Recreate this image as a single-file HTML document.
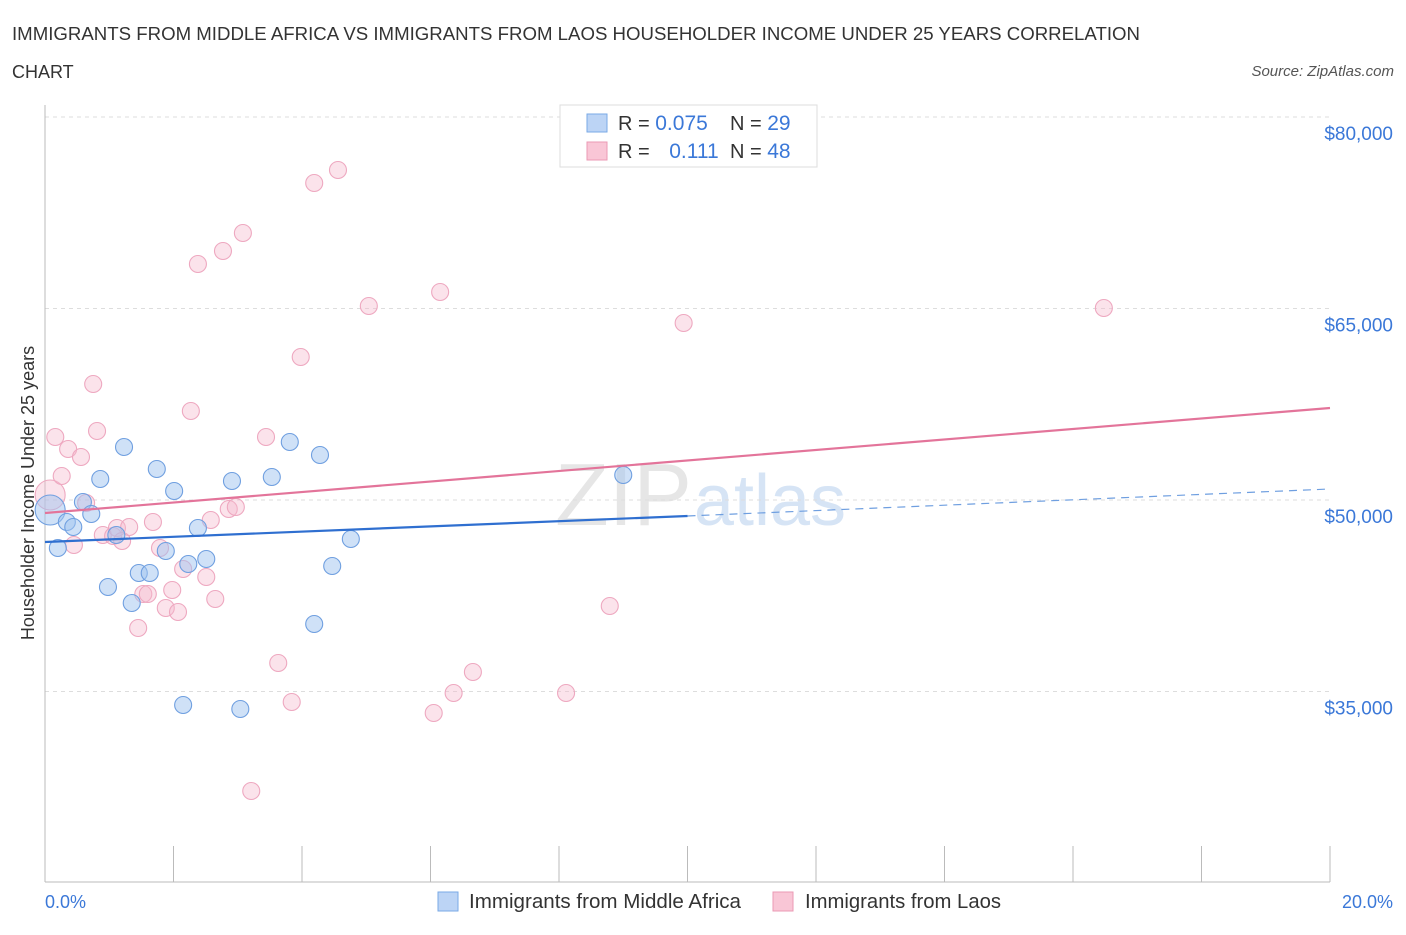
<!DOCTYPE html>
<html><head><meta charset="utf-8"><style>
body{margin:0;background:#fff;font-family:"Liberation Sans",sans-serif;}
svg text{font-family:"Liberation Sans",sans-serif;}
</style></head><body>
<svg id="c" width="1406" height="930">
<text x="12" y="40" font-size="18" fill="#333" textLength="1128" lengthAdjust="spacingAndGlyphs">IMMIGRANTS FROM MIDDLE AFRICA VS IMMIGRANTS FROM LAOS HOUSEHOLDER INCOME UNDER 25 YEARS CORRELATION</text>
<text x="12" y="78" font-size="18" fill="#333">CHART</text>
<text x="1394" y="76" font-size="15" fill="#555" font-style="italic" text-anchor="end">Source: ZipAtlas.com</text>
<text x="555" y="525" font-size="88" fill="#e6e6e6" font-family="Liberation Serif">ZIP<tspan fill="#d6e4f5" font-family="Liberation Sans" font-size="72" dx="2">atlas</tspan></text>
<g id="grid"></g><g id="axes"></g><g id="marks"></g>
<text x="34" y="493" font-size="18" fill="#333" text-anchor="middle" transform="rotate(-90 34 493)">Householder Income Under 25 years</text>
<text x="45" y="908" font-size="18" fill="#3b78d8">0.0%</text>
<text x="1393" y="908" font-size="18" fill="#3b78d8" text-anchor="end">20.0%</text>
<g>
<rect x="560" y="105" width="257" height="62" fill="#fff" stroke="#ddd"/>
<rect x="587" y="114" width="20" height="18" fill="#bcd4f5" stroke="#7aaae6"/>
<rect x="587" y="142" width="20" height="18" fill="#f9c6d6" stroke="#eb9ab4"/>
<text x="618" y="130" font-size="20" fill="#333">R = <tspan fill="#3b78d8" font-size="21">0.075</tspan></text>
<text x="730" y="130" font-size="20" fill="#333">N = <tspan fill="#3b78d8" font-size="21">29</tspan></text>
<text x="618" y="158" font-size="20" fill="#333">R = <tspan fill="#3b78d8" dx="14" font-size="21">0.111</tspan></text>
<text x="730" y="158" font-size="20" fill="#333">N = <tspan fill="#3b78d8" font-size="21">48</tspan></text>
</g>
<g>
<rect x="438" y="892" width="20" height="19" fill="#bcd4f5" stroke="#7aaae6"/>
<text x="469" y="908" font-size="20" fill="#333" textLength="272" lengthAdjust="spacingAndGlyphs">Immigrants from Middle Africa</text>
<rect x="773" y="892" width="20" height="19" fill="#f9c6d6" stroke="#eb9ab4"/>
<text x="805" y="908" font-size="20" fill="#333" textLength="196" lengthAdjust="spacingAndGlyphs">Immigrants from Laos</text>
</g>
</svg>
<script>
const yTicks=[35000,50000,65000,80000];
const yTickLabels=["$35,000","$50,000","$65,000","$80,000"];
const xTicks=[0,2,4,6,8,10,12,14,16,18,20];
const blueX=[0.08,0.20,0.34,0.44,0.59,0.72,0.86,0.98,1.11,1.23,1.35,1.46,1.63,1.74,1.88,2.01,2.15,2.23,2.38,2.51,2.91,3.04,3.53,3.81,4.19,4.28,4.47,4.76,9.00];
const blueY=[49217,46240,48277,47885,49843,48903,51645,43185,47258,54151,41932,44282,44282,52428,46005,50705,33942,44987,47807,45378,51488,33629,51802,54543,40287,53525,44830,46945,51958];
const pinkX=[0.08,0.16,0.26,0.36,0.45,0.56,0.64,0.75,0.81,0.90,1.06,1.12,1.20,1.31,1.45,1.53,1.60,1.68,1.79,1.88,1.98,2.07,2.15,2.27,2.38,2.51,2.58,2.65,2.77,2.86,2.97,3.08,3.21,3.44,3.63,3.84,3.98,4.19,4.56,5.04,6.05,6.15,6.36,6.66,8.11,8.79,9.94,16.48];
const pinkY=[50392,54935,51880,53995,46475,53368,49765,59086,55405,47258,47180,47807,46788,47885,39974,42637,42637,48277,46240,41540,42950,41227,44595,56972,68486,43968,48433,42245,69504,49295,49452,70914,27206,54935,37232,34177,61201,74831,75849,65196,33316,66293,34882,36527,34882,41697,63865,65040];
const blueTrendX=[0,10,20];
const blueTrendY=[46710,48747,50862];
const pinkTrendX=[0,20];
const pinkTrendY=[48982,57206];
const NS="http://www.w3.org/2000/svg";
const X=v=>45+v/20*1285;
const Y=v=>500-(v-50000)*191.5/15000;
function mk(t,a,p){const e=document.createElementNS(NS,t);for(const k in a)e.setAttribute(k,a[k]);p.appendChild(e);return e;}
const grid=document.getElementById('grid'),axes=document.getElementById('axes'),marks=document.getElementById('marks');
yTicks.forEach((v,i)=>{
 const l=mk('line',{x1:45,x2:1330,y1:Y(v),y2:Y(v),stroke:'#ddd','stroke-dasharray':'4,4'},grid);
 
 
 const t=mk('text',{x:1393,y:Y(v)+23,'font-size':19,fill:'#3b78d8','text-anchor':'end'},grid);
 t.textContent=yTickLabels[i];
 
 
});
const yl=mk('line',{x1:45,x2:45,y1:105,y2:882,stroke:'#bbb'},axes);


const xl=mk('line',{x1:45,x2:1330,y1:882,y2:882,stroke:'#bbb'},axes);


xTicks.forEach(v=>{
 const t=mk('line',{x1:X(v),x2:X(v),y1:846,y2:882,stroke:'#bbb'},axes);
 
 
});
function pts(xs,ys,fill,stroke,name){
 xs.forEach((x,i)=>{
  const r=i===0?15:8.5;
  const c=mk('circle',{cx:X(x),cy:Y(ys[i]),r:r,fill:fill,stroke:stroke,'stroke-width':1.1},marks);
  
  
 });
}
pts(pinkX,pinkY,'rgba(246,185,205,0.4)','#eea8c0','laos-point');
pts(blueX,blueY,'rgba(160,196,240,0.5)','#6f9fe0','middle-africa-point');
const bs=mk('line',{x1:X(blueTrendX[0]),y1:Y(blueTrendY[0]),x2:X(blueTrendX[1]),y2:Y(blueTrendY[1]),stroke:'#2f6fd0','stroke-width':2.2},marks);


const bd=mk('line',{x1:X(blueTrendX[1]),y1:Y(blueTrendY[1]),x2:X(blueTrendX[2]),y2:Y(blueTrendY[2]),stroke:'#6f9fe0','stroke-width':1.2,'stroke-dasharray':'8,6'},marks);


const pl=mk('line',{x1:X(pinkTrendX[0]),y1:Y(pinkTrendY[0]),x2:X(pinkTrendX[1]),y2:Y(pinkTrendY[1]),stroke:'#e3749a','stroke-width':2.2},marks);


</script>
</body></html>
